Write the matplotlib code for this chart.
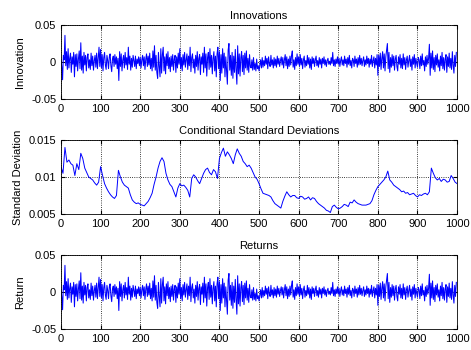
import numpy as np
import matplotlib.pyplot as plt

innov_milli = [
    4, -6, -24, 9, 3, 36, -5, 14, -10, 18,
    -8, 5, 12, -14, 7, -3, 13, -20, 10, -6,
    11, -12, 4, 15, -9, 26, -11, 8, -15, 13,
    -4, 9, -12, 6, 11, -8, 3, -10, 12, -5,
    8, -11, 2, 9, -7, 12, -9, 5, 20, -6,
    17, -8, 10, -12, 6, 13, -4, -10, 9, 2,
    -9, 7, 11, -5, -13, 4, 8, -6, 10, -3,
    7, -9, 5, -25, 14, -6, 11, -12, 3, 9,
    -8, 13, -4, 6, -10, 20, -3, 8, -11, 5,
    -7, 9, 2, -6, 8, -9, 4, -2, 7, -5,
    6, -8, 3, 9, -5, 7, -10, 4, 11, -6,
    8, -4, 12, -9, 5, -12, 15, -7, 22, -11,
    9, -14, -22, 13, -6, -20, 18, -15, 10, 20,
    -12, 7, -16, 11, -5, 14, -9, 6, -13, 8,
    -6, 10, -11, 4, 9, -14, 7, -8, 12, -3,
    18, -9, 6, -12, 10, -4, 13, -7, 3, 11,
    -10, 8, -5, 20, -13, 6, 11, -8, 4, -15,
    9, -6, 14, -11, 5, 10, -17, 7, -3, 12,
    -14, 20, -8, 11, -19, 6, 13, -10, 18, -7,
    9, -16, 5, 14, -12, 8, -20, 11, 20, -9,
    14, -25, 10, -15, 18, -8, 12, -20, 7, -12,
    -30, 16, 25, -11, 9, -18, 13, -22, 8, -14,
    17, -10, -30, 22, -16, 11, -19, 6, 14, -13,
    9, -17, 12, -8, 15, -11, 5, -14, 10, -6,
    -8, 3, -11, 6, -10, -2, -12, 4, -9, -5,
    -12, -4, 3, -8, 6, -7, 2, -5, 8, -3,
    5, -9, 7, -2, -6, 9, -4, 3, -8, 6,
    -5, 4, -7, 8, -3, 5, -6, 2, 7, -4,
    6, -8, 3, 10, -5, 7, -9, 4, -6, 8,
    -4, 9, 15, -7, 3, -10, 6, -5, 11, -3,
    7, -6, 10, -4, 5, -9, 3, 8, -7, 2,
    -5, 9, -3, 6, -8, 4, -10, 7, -2, 5,
    -6, 3, 8, -5, 2, -7, 6, -3, 4, -8,
    5, -2, 7, -4, 3, -6, 2, 5, -3, 1,
    -4, 6, -2, 13, -5, 3, -6, 4, -2, 7,
    -3, 5, -6, 2, 7, -4, 3, -5, 8, -2,
    4, -7, 6, -3, 9, -5, 2, -8, 5, 3,
    -6, 8, -2, 4, -7, 6, -4, 9, -3, 5,
    -5, 2, 7, -6, 3, -4, 8, -2, 5, -7,
    4, -3, 9, -6, 2, 7, -8, 5, -4, 10,
    -18, 9, -6, 12, -10, 5, 14, -8, 11, -12,
    7, 16, 25, -9, 13, -14, 6, -7, 10, -5,
    8, -11, 4, 9, -6, -12, 7, -3, 10, -8,
    5, -9, 11, -4, 6, -10, 3, 8, -7, 2,
    9, -6, 4, -11, 7, -3, 10, -8, 5, -2,
    -7, 6, 3, -9, 8, -5, 11, -4, 2, -12,
    7, -6, 9, -3, 5, 24, -18, 12, -8, 15,
    -10, 6, -13, 9, -4, 11, -7, 3, -12, 8,
    -5, 13, -9, 6, -11, 4, 10, -14, 7, -6,
    12, -8, 5, -10, 14, -4, -15, 9, -6, 13,
]
# returns panel shows the same series (zero constant)
returns_milli = innov_milli

# conditional std. dev., every 5th observation (units of 0.0001)
sigma_e4 = [
    114, 105, 140, 120, 123, 118, 116, 102, 118, 110,
    132, 125, 112, 106, 100, 98, 96, 92, 89, 93,
    114, 102, 91, 85, 80, 76, 73, 71, 75, 109,
    100, 93, 89, 87, 85, 76, 69, 66, 64, 65,
    63, 62, 61, 64, 67, 72, 78, 90, 100, 112,
    121, 126, 121, 105, 96, 90, 87, 80, 73, 85,
    91, 88, 89, 86, 82, 73, 98, 103, 100, 95,
    91, 98, 105, 110, 112, 106, 103, 110, 107, 98,
    125, 133, 139, 128, 134, 130, 125, 118, 130, 138,
    132, 128, 121, 118, 114, 116, 112, 106, 100, 97,
    91, 84, 78, 77, 76, 75, 73, 68, 64, 62,
    60, 58, 67, 74, 80, 76, 73, 75, 75, 72,
    71, 74, 73, 70, 71, 73, 69, 72, 71, 67,
    64, 62, 60, 58, 55, 54, 52, 60, 62, 59,
    57, 58, 60, 63, 62, 60, 66, 65, 69, 66,
    64, 63, 62, 62, 62, 63, 64, 68, 76, 82,
    87, 90, 93, 96, 100, 108, 96, 93, 89, 87,
    85, 83, 80, 81, 78, 79, 76, 77, 78, 75,
    73, 76, 75, 77, 78, 76, 80, 112, 105, 99,
    96, 98, 94, 97, 96, 93, 94, 102, 98, 93, 91,
]

innov = np.array(innov_milli) * 1e-3
returns = np.array(returns_milli) * 1e-3
sigma = np.array(sigma_e4) * 1e-4
t_obs = np.arange(len(innov)) * 2
t_sig = np.arange(len(sigma)) * 5

plt.rcParams['font.family'] = ['Liberation Sans', 'DejaVu Sans']
plt.rcParams['font.size'] = 8

fig = plt.figure(figsize=(4.71, 3.5), dpi=100)
left, width, height = 0.1295, 0.841, 0.2114
bottoms = [0.7171, 0.3886, 0.06]

panels = [
    (t_obs, innov, 'Innovations', 'Innovation', [-0.05, 0, 0.05], ['-0.05', '0', '0.05'], 0.75),
    (t_sig, sigma, 'Conditional Standard Deviations', 'Standard Deviation',
     [0.005, 0.01, 0.015], ['0.005', '0.01', '0.015'], 0.7),
    (t_obs, returns, 'Returns', 'Return', [-0.05, 0, 0.05], ['-0.05', '0', '0.05'], 0.75),
]

for b, (x, y, title, ylabel, yt, ytl, lw) in zip(bottoms, panels):
    ax = fig.add_axes([left, b, width, height])
    ax.plot(x, y, color='b', linewidth=lw)
    ax.set_xlim(0, 1000)
    ax.set_ylim(yt[0], yt[-1])
    ax.set_xticks(range(0, 1001, 100))
    ax.set_yticks(yt)
    ax.set_yticklabels(ytl)
    ax.set_title(title, fontsize=8, pad=4)
    ax.set_ylabel(ylabel, fontsize=8)
    ax.grid(True, linestyle=':', color='k', linewidth=0.6)
    ax.tick_params(direction='in', top=True, right=True, length=3, labelsize=8)
    for s in ax.spines.values():
        s.set_linewidth(0.6)

fig.savefig('out.png', dpi=100)
